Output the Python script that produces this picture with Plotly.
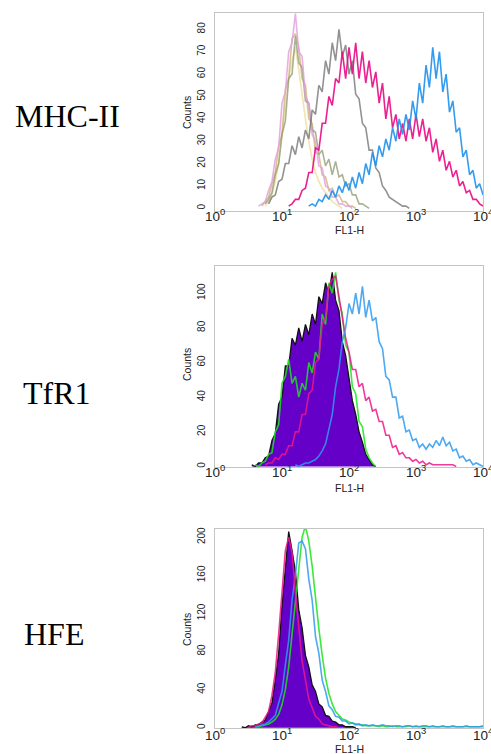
import math
import plotly.graph_objects as go

STEP = 0.05  # histogram bin width in decades

row_labels = ["MHC-II", "TfR1", "HFE"]
x_tick_vals = [1, 10, 100, 1000, 10000]
x_tick_text = ["10<sup>0</sup>", "10<sup>1</sup>", "10<sup>2</sup>", "10<sup>3</sup>", "10<sup>4</sup>"]

# ---- MHC-II panel (start = log10 of first bin) ----
mhc_pink_start = 0.65
mhc_pink = [1, 2, 3, 8, 12, 22, 27, 47, 52, 70, 74, 87, 70, 68, 50, 47, 33, 30, 19, 18, 10, 9, 5, 5, 2, 2, 1, 1, 0]
mhc_tan_start = 0.70
mhc_tan = [1, 3, 5, 11, 16, 28, 33, 53, 58, 76, 78, 72, 58, 55, 40, 38, 25, 24, 15, 14, 8, 9, 5, 6, 3, 3, 1, 1, 0]
mhc_olive_start = 0.75
mhc_olive = [2, 4, 7, 15, 20, 33, 39, 58, 60, 77, 65, 63, 48, 47, 35, 34, 24, 26, 19, 22, 15, 21, 14, 15, 10, 11, 6, 6, 2, 2, 1, 0]
mhc_yellow_start = 0.75
mhc_yellow = [1, 3, 6, 12, 20, 32, 45, 58, 66, 72, 62, 50, 40, 30, 22, 16, 12, 9, 7, 5, 3, 2, 1, 0]
mhc_gray_start = 0.80
mhc_gray = [2, 5, 6, 12, 13, 20, 20, 28, 24, 32, 27, 35, 31, 44, 42, 55, 52, 66, 60, 74, 66, 80, 68, 73, 60, 66,
            51, 49, 38, 36, 26, 26, 18, 16, 10, 8, 5, 4, 3, 2, 1, 1, 0]
mhc_magenta_start = 1.10
mhc_magenta = [1, 2, 4, 4, 8, 9, 16, 16, 27, 26, 38, 38, 50, 46, 58, 56, 70, 58, 72, 60, 74, 58, 70, 56, 66, 54,
               61, 47, 56, 40, 50, 36, 42, 31, 38, 30, 40, 31, 42, 32, 40, 30, 36, 25, 31, 21, 26, 17, 21, 14,
               17, 10, 12, 7, 8, 4, 4, 2, 1]
mhc_blue_start = 1.40
mhc_blue = [1, 2, 1, 4, 3, 6, 4, 8, 5, 10, 7, 12, 8, 14, 9, 16, 11, 20, 15, 25, 19, 28, 23, 31, 26, 36, 30, 40,
            33, 42, 35, 48, 40, 56, 47, 64, 54, 72, 58, 70, 52, 60, 43, 48, 34, 36, 23, 26, 15, 17, 9, 11, 6]

# ---- TfR1 panel ----
tfr_purple_start = 0.55
tfr_purple = [1, 0, 2, 2, 5, 6, 15, 19, 36, 40, 58, 58, 74, 70, 80, 72, 82, 76, 88, 82, 98, 94, 106, 100, 112,
              96, 90, 72, 64, 50, 38, 30, 20, 14, 7, 4, 1, 0]
tfr_green_start = 0.60
tfr_green = [1, 0, 2, 3, 7, 8, 20, 24, 48, 52, 62, 48, 52, 40, 48, 44, 60, 54, 66, 62, 88, 82, 106, 100, 112, 96,
             88, 70, 66, 46, 42, 26, 23, 10, 5, 2, 0]
tfr_magenta_start = 0.75
tfr_magenta = [1, 2, 2, 5, 4, 7, 7, 12, 12, 20, 20, 30, 30, 42, 44, 60, 62, 82, 86, 104, 108, 110, 98, 86, 74, 66,
               56, 56, 46, 48, 38, 40, 32, 33, 26, 26, 18, 18, 11, 12, 7, 8, 5, 5, 3, 4, 2, 3, 1, 2, 1, 1, 1, 1,
               1, 1, 1, 0]
tfr_blue_start = 1.20
tfr_blue = [1, 0, 1, 2, 2, 3, 4, 6, 9, 13, 22, 30, 46, 56, 72, 80, 94, 88, 100, 88, 104, 86, 96, 84, 86, 72, 68,
            52, 50, 40, 40, 28, 29, 20, 21, 15, 16, 11, 13, 10, 13, 11, 15, 12, 17, 12, 14, 9, 10, 5, 6, 3, 4, 1,
            2, 1, 0]

# ---- HFE panel ----
hfe_purple_start = 0.40
hfe_purple = [1, 0, 2, 1, 3, 3, 6, 8, 17, 26, 50, 78, 128, 170, 206, 186, 164, 124, 105, 76, 64, 45, 38, 25, 22,
              13, 12, 7, 6, 3, 3, 1, 1, 1, 0]
hfe_pink_start = 0.50
hfe_pink = [1, 2, 2, 4, 5, 11, 17, 34, 58, 98, 138, 186, 200, 184, 142, 108, 70, 50, 30, 21, 12, 9, 4, 3, 2, 1, 1, 0]
hfe_blue_start = 0.60
hfe_blue = [1, 2, 3, 4, 6, 10, 13, 26, 38, 66, 92, 134, 160, 194, 196, 188, 156, 134, 96, 78, 50, 38, 23, 19, 12,
            11, 7, 7, 4, 5, 3, 4, 2, 3, 2, 3, 2, 2, 3, 2, 2, 1, 2, 2, 1, 2, 2, 1, 2, 1, 2, 2, 1, 2, 1, 1, 2, 1, 1,
            2, 1, 1, 1, 2, 1, 1, 1, 1, 2]
hfe_green_start = 0.60
hfe_green = [1, 1, 2, 3, 4, 6, 9, 14, 24, 40, 64, 98, 134, 170, 200, 212, 196, 170, 136, 104, 76, 52, 36, 25, 17,
             13, 9, 8, 6, 5, 4, 3, 3, 2, 2, 2, 2, 1, 2, 1, 1, 2, 1, 1, 1, 1, 2, 1, 1, 1, 1, 1, 1, 1, 1, 1, 1, 1,
             1, 1, 1, 1, 1, 1, 1, 1, 1, 1, 1]

W, H = 491, 754
X0, X1 = 215, 483
panels = [
    dict(top=13, bot=211, yr=[-1.2, 87.3], ticks=list(range(0, 81, 10)), lab_y=116, cnt_y=113, xt_y=215, fl_y=230),
    dict(top=266, bot=467, yr=[-0.3, 115.7], ticks=list(range(0, 101, 20)), lab_y=393, cnt_y=365, xt_y=471, fl_y=488),
    dict(top=529, bot=728, yr=[-0.3, 208.7], ticks=list(range(0, 201, 40)), lab_y=634, cnt_y=630, xt_y=734, fl_y=749),
]
label_x = [13, 21, 22]


def xs(start, vals):
    return [10 ** (start + i * STEP) for i in range(len(vals))]


fig = go.Figure()


def add_line(panel, start, vals, color, width=1.6, opacity=0.85, fill=None):
    ax = "" if panel == 0 else str(panel + 1)
    kw = {}
    if fill:
        kw = dict(fill="tozeroy", fillcolor=fill)
    fig.add_trace(go.Scatter(x=xs(start, vals), y=vals, mode="lines", line=dict(color=color, width=width, shape="linear"),
                             opacity=opacity, xaxis="x" + ax, yaxis="y" + ax, hoverinfo="skip", showlegend=False, **kw))


# MHC-II
add_line(0, mhc_yellow_start, mhc_yellow, "#f0dd9c", opacity=0.8)
add_line(0, mhc_tan_start, mhc_tan, "#d2b57a", opacity=0.8)
add_line(0, mhc_olive_start, mhc_olive, "#8e9a72", opacity=0.75)
add_line(0, mhc_pink_start, mhc_pink, "#e39ee0", opacity=0.8)
add_line(0, mhc_gray_start, mhc_gray, "#6e6e6e", opacity=0.75)
add_line(0, mhc_magenta_start, mhc_magenta, "#ea0a86", opacity=0.9)
add_line(0, mhc_blue_start, mhc_blue, "#1f92ee", opacity=0.9)
# TfR1
add_line(1, tfr_purple_start, tfr_purple, "#111111", width=1.3, opacity=1, fill="#6400c8")
add_line(1, tfr_green_start, tfr_green, "#1be61b")
add_line(1, tfr_magenta_start, tfr_magenta, "#f0168c")
add_line(1, tfr_blue_start, tfr_blue, "#2f9bf0")
# HFE
add_line(2, hfe_purple_start, hfe_purple, "#111111", width=1.3, opacity=1, fill="#6400c8")
add_line(2, hfe_green_start, hfe_green, "#1be61b")
add_line(2, hfe_blue_start, hfe_blue, "#2f9bf0")
add_line(2, hfe_pink_start, hfe_pink, "#f0168c")

layout = dict(width=W, height=H, margin=dict(l=0, r=0, t=0, b=0, autoexpand=False), paper_bgcolor="white",
              plot_bgcolor="white", showlegend=False, font=dict(family="Liberation Sans, Arial", color="#222"))
annotations = []
for i, p in enumerate(panels):
    ax = "" if i == 0 else str(i + 1)
    layout["xaxis" + ax] = dict(type="log", range=[0, 4], domain=[X0 / W, X1 / W], anchor="y" + ax,
                                showticklabels=False, showgrid=False, zeroline=False, showline=True,
                                linecolor="#c4c4c4", linewidth=1, mirror=True, ticks="", automargin=False)
    layout["yaxis" + ax] = dict(range=p["yr"], domain=[1 - p["bot"] / H, 1 - p["top"] / H], anchor="x" + ax,
                                tickvals=p["ticks"], tickangle=-90, tickfont=dict(size=10, color="#222"),
                                showgrid=False, zeroline=False, showline=True, linecolor="#c4c4c4", linewidth=1,
                                mirror=True, ticks="outside", ticklen=5, tickcolor="rgba(0,0,0,0)", automargin=False)
    for v, t in zip(x_tick_vals, x_tick_text):
        annotations.append(dict(text=t, x=math.log10(v), xref="x" + ax, y=1 - p["xt_y"] / H, yref="paper",
                                xanchor="center", yanchor="middle", showarrow=False,
                                font=dict(size=13.5, color="#222")))
    annotations.append(dict(text=row_labels[i], x=label_x[i] / W, y=1 - p["lab_y"] / H, xref="paper", yref="paper",
                            xanchor="left", yanchor="middle", showarrow=False,
                            font=dict(family="Liberation Serif, Times New Roman", size=32, color="#000")))
    annotations.append(dict(text="Counts", x=187 / W, y=1 - p["cnt_y"] / H, xref="paper", yref="paper",
                            xanchor="center", yanchor="middle", showarrow=False, textangle=-90,
                            font=dict(size=10.5, color="#222")))
    annotations.append(dict(text="FL1-H", x=((X0 + X1) / 2) / W, y=1 - p["fl_y"] / H, xref="paper", yref="paper",
                            xanchor="center", yanchor="middle", showarrow=False,
                            font=dict(size=10.5, color="#222")))
layout["annotations"] = annotations
fig.update_layout(**layout)
fig.write_html("out.html", config={"displayModeBar": False},
               post_script="document.body.style.margin='0';document.body.style.overflow='hidden';")
